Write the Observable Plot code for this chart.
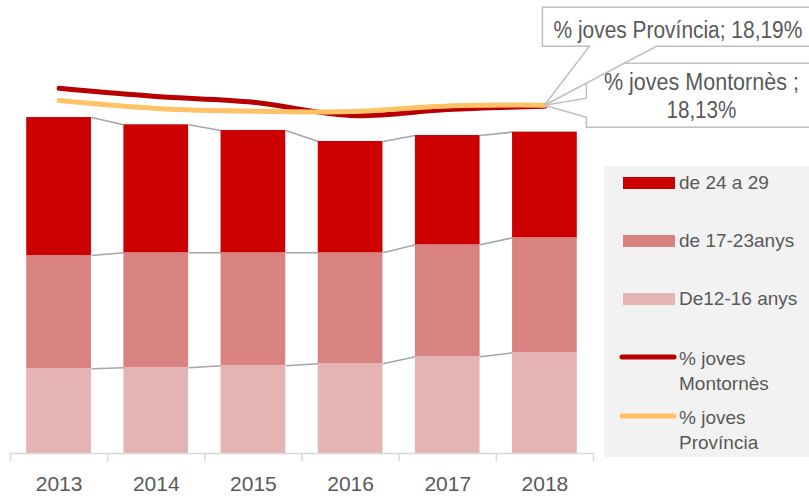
<!DOCTYPE html>
<html><head><meta charset="utf-8">
<script src="https://cdn.jsdelivr.net/npm/d3@7"></script>
<script src="https://cdn.jsdelivr.net/npm/@observablehq/plot@0.6"></script>
<style>body{margin:0;background:#fff} #chart svg{display:block;overflow:visible}</style>
</head><body><div id="chart"></div>
<script>
// ---- data ----
const years = [2013, 2014, 2015, 2016, 2017, 2018];
const tickLabels = ["2013", "2014", "2015", "2016", "2017", "2018"];
const seriesNames = ["De12-16 anys", "de 17-23anys", "de 24 a 29"];
const age12_16 = [774, 783, 801, 820, 884, 920];
const age17_23 = [1035, 1051, 1033, 1014, 1023, 1051];
const age24_29 = [1261, 1170, 1118, 1017, 999, 966];
const pctMontornes = [19.07, 18.64, 18.34, 17.65, 17.96, 18.13];
const pctProvincia = [18.43, 18.02, 17.87, 17.86, 18.15, 18.19];
const lineNames = ["% joves Montornès", "% joves Província"];
const calloutProvincia = ["% joves Província; 18,19%"];
const calloutMontornes = ["% joves Montornès ;", "18,13%"];

// ---- styles ----
const seriesColors = ["#e4b4b4", "#d88282", "#cc0000"];
const lineColors = ["#b80000", "#ffc266"];
const textColor = "#595959";
const PRIMARY_MAX = 3500, SECONDARY_MAX = 20;          // secondary (%) axis aligned with primary
const PCT = PRIMARY_MAX / SECONDARY_MAX;
const half = 0.333;                                     // half bar width in year units

// ---- derived tables ----
const series = [age12_16, age17_23, age24_29];
const bars = [];
const tops = series.map(() => []);
years.forEach((yr, i) => {
  let base = 0;
  series.forEach((s, k) => {
    bars.push({year: yr, name: seriesNames[k], y1: base, y2: base + s[i]});
    base += s[i];
    tops[k].push(base);
  });
});
const connectors = [];
tops.forEach(t => {
  for (let i = 0; i < years.length - 1; i++)
    connectors.push({x1: years[i] + half, x2: years[i + 1] - half, y1: t[i], y2: t[i + 1]});
});
const lineData = [pctMontornes, pctProvincia].map((arr, k) =>
  years.map((yr, i) => ({year: yr, pct: arr[i], name: lineNames[k]})));
const boundaries = d3.range(years.length + 1).map(i => years[0] - 0.5 + i);

const plot = Plot.plot({
  width: 809, height: 496,
  marginLeft: 10, marginRight: 216, marginTop: 70, marginBottom: 43,
  x: {type: "linear", domain: [years[0] - 0.5, years[years.length - 1] + 0.5], axis: null},
  y: {domain: [0, PRIMARY_MAX], axis: null},
  color: {domain: seriesNames, range: seriesColors},
  style: {fontFamily: "'Liberation Sans', Arial, sans-serif", background: "white", overflow: "visible"},
  marks: [
    Plot.link(connectors, {x1: "x1", x2: "x2", y1: "y1", y2: "y2", stroke: "#a6a6a6", strokeWidth: 1.5}),
    Plot.rect(bars, {x1: d => d.year - half, x2: d => d.year + half, y1: "y1", y2: "y2", fill: "name"}),
    Plot.ruleY([0], {x1: boundaries[0], x2: boundaries[boundaries.length - 1], stroke: "#d9d9d9", strokeWidth: 1.5}),
    Plot.axisX(boundaries, {tickSize: 8, tickFormat: () => "", stroke: "#d9d9d9", strokeWidth: 1.5}),
    Plot.axisX(years, {tickSize: 0, tickPadding: 23, tickFormat: d => tickLabels[years.indexOf(d)], fontSize: 21, fill: textColor}),
    Plot.line(lineData[0], {x: "year", y: d => d.pct * PCT, stroke: lineColors[0], strokeWidth: 5, curve: "catmull-rom", strokeLinecap: "round"}),
    Plot.line(lineData[1], {x: "year", y: d => d.pct * PCT, stroke: lineColors[1], strokeWidth: 5, curve: "catmull-rom", strokeLinecap: "round"})
  ]
});
document.getElementById("chart").appendChild(plot);

// ---- callouts anchored on the 2018 points ----
const svg = d3.select(plot);
const sx = plot.scale("x"), sy = plot.scale("y");
const tx = sx.apply(years[5]);
const ty = sy.apply((pctMontornes[5] + pctProvincia[5]) / 2 * PCT);
const ann = svg.append("g").attr("font-family", "'Liberation Sans', Arial, sans-serif").attr("fill", textColor);
// Montornès box
ann.append("path")
  .attr("d", `M${tx + 42},${ty - 42} H${tx + 300} V${ty + 22} H${tx + 42} V${ty + 12} L${tx},${ty} L${tx + 42},${ty - 7} Z`)
  .attr("fill", "white").attr("stroke", "#bfbfbf").attr("stroke-width", 1.5);
// Província box
ann.append("path")
  .attr("d", `M${tx - 2},${ty - 98} H${tx + 300} V${ty - 59} H${tx + 112} L${tx},${ty} L${tx + 45},${ty - 59} H${tx - 2} Z`)
  .attr("fill", "white").attr("stroke", "#bfbfbf").attr("stroke-width", 1.5);
// narrow-looking text: draw at full size, then squeeze horizontally to the target width
function narrowText(str, cx, cy, target) {
  const t = ann.append("text").attr("text-anchor", "middle").attr("font-size", 24.5).text(str);
  const w = t.node().getComputedTextLength();
  const k = Math.min(1, target / w);
  t.attr("transform", `translate(${cx},${cy}) scale(${k},1)`);
}
narrowText(calloutProvincia[0], tx + 133.5, ty - 67, 249);
const mWidths = [195, 70];
calloutMontornes.forEach((t, i) => narrowText(t, tx + 157, ty - 15 + i * 28, mWidths[i]));

// ---- legend ----
const lg = svg.append("g").attr("font-family", "'Liberation Sans', Arial, sans-serif").attr("font-size", 19)
  .attr("fill", textColor).attr("text-anchor", "start");
lg.append("rect").attr("x", 604).attr("y", 166).attr("width", 205).attr("height", 291).attr("fill", "#f2f2f2");
const legendOrder = [2, 1, 0];
legendOrder.forEach((k, j) => {
  const y0 = 177 + j * 58;
  lg.append("rect").attr("x", 623).attr("y", y0).attr("width", 52).attr("height", 12).attr("fill", seriesColors[k]);
  lg.append("text").attr("x", 679).attr("y", y0 + 12).text(seriesNames[k]);
});
lineNames.forEach((name, k) => {
  const y0 = 357 + k * 59;
  lg.append("line").attr("x1", 622).attr("x2", 674).attr("y1", y0).attr("y2", y0)
    .attr("stroke", lineColors[k]).attr("stroke-width", 5).attr("stroke-linecap", "round");
  const parts = name.split(/ (?=[^ ]+$)/);
  parts.forEach((p, i) => lg.append("text").attr("x", 679).attr("y", y0 + 8 + i * 25).text(p));
});
</script>
</body></html>
